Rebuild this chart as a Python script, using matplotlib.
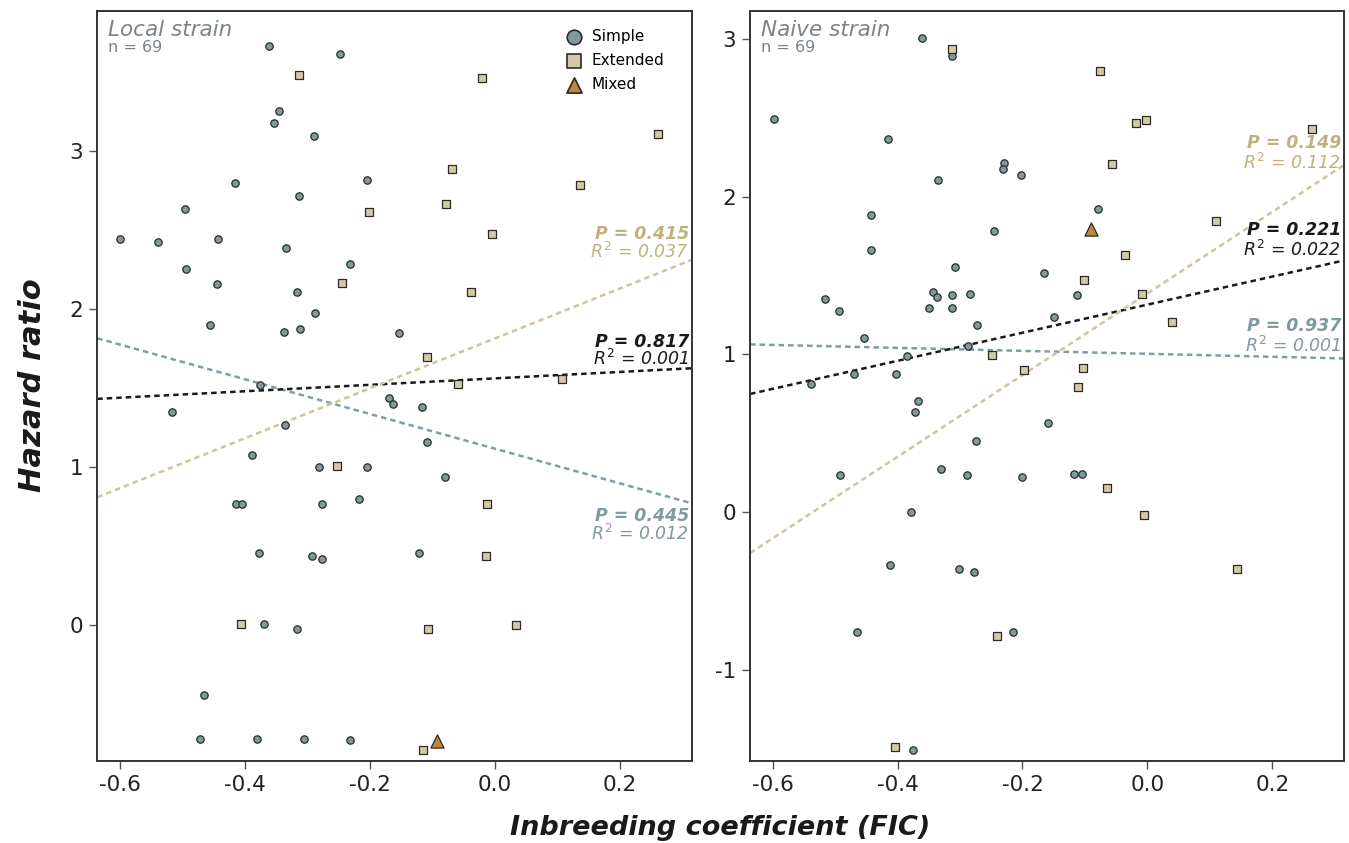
import numpy as np
import matplotlib.pyplot as plt

# Local strain
loc_simple_x = [-0.361, -0.247, -0.346, -0.353, -0.290, -0.416, -0.204, -0.314, -0.495, -0.599,
                -0.539, -0.443, -0.334, -0.494, -0.445, -0.456, -0.338, -0.312, -0.287, -0.317,
                -0.232, -0.153, -0.375, -0.517, -0.336, -0.388, -0.169, -0.163, -0.117, -0.109,
                -0.080, -0.281, -0.205, -0.414, -0.405, -0.277, -0.218, -0.377, -0.292, -0.276,
                -0.121, -0.370, -0.317, -0.466, -0.471, -0.380, -0.305, -0.232]
loc_simple_y = [3.663, 3.615, 3.254, 3.174, 3.094, 2.794, 2.813, 2.714, 2.634, 2.444,
                2.425, 2.444, 2.385, 2.250, 2.155, 1.900, 1.855, 1.874, 1.973, 2.104,
                2.283, 1.845, 1.516, 1.345, 1.265, 1.075, 1.435, 1.396, 1.376, 1.155,
                0.935, 0.997, 0.997, 0.765, 0.765, 0.765, 0.796, 0.454, 0.435, 0.416,
                0.454, 0.005, -0.025, -0.444, -0.725, -0.725, -0.725, -0.733]
loc_ext_x = [-0.313, -0.021, 0.261, -0.068, 0.136, -0.078, -0.202, -0.004, -0.244, -0.038,
             -0.109, -0.059, 0.108, -0.252, -0.012, -0.014, -0.406, -0.107, 0.034, -0.115]
loc_ext_y = [3.482, 3.463, 3.106, 2.885, 2.786, 2.665, 2.615, 2.475, 2.163, 2.106,
             1.697, 1.524, 1.556, 1.003, 0.765, 0.437, 0.007, -0.025, -0.003, -0.793]
loc_mix_x = [-0.093]
loc_mix_y = [-0.736]

# Naive strain
nai_simple_x = [-0.361, -0.313, -0.598, -0.415, -0.230, -0.231, -0.202, -0.335, -0.079, -0.443,
                -0.246, -0.442, -0.308, -0.166, -0.516, -0.494, -0.344, -0.336, -0.313, -0.284,
                -0.113, -0.350, -0.313, -0.149, -0.273, -0.454, -0.287, -0.385, -0.538, -0.469,
                -0.403, -0.367, -0.372, -0.159, -0.274, -0.492, -0.331, -0.289, -0.201, -0.117,
                -0.104, -0.378, -0.412, -0.302, -0.277, -0.465, -0.215, -0.375]
nai_simple_y = [3.008, 2.895, 2.496, 2.367, 2.216, 2.176, 2.136, 2.105, 1.925, 1.886,
                1.785, 1.664, 1.554, 1.514, 1.353, 1.273, 1.394, 1.364, 1.375, 1.383,
                1.375, 1.294, 1.294, 1.235, 1.185, 1.104, 1.053, 0.992, 0.814, 0.874,
                0.874, 0.702, 0.633, 0.563, 0.452, 0.233, 0.273, 0.233, 0.222, 0.243,
                0.243, 0.002, -0.338, -0.359, -0.380, -0.759, -0.759, -1.512]
nai_ext_x = [-0.312, -0.076, -0.019, -0.002, 0.264, -0.057, 0.110, -0.036, -0.101, -0.008,
             0.040, -0.249, -0.198, -0.103, -0.111, -0.064, -0.006, 0.143, -0.241, -0.404]
nai_ext_y = [2.936, 2.800, 2.466, 2.487, 2.428, 2.206, 1.847, 1.633, 1.474, 1.383,
             1.205, 0.994, 0.903, 0.914, 0.793, 0.152, -0.019, -0.359, -0.789, -1.489]
nai_mix_x = [-0.091]
nai_mix_y = [1.798]

# regression lines (slope, intercept): simple, all, extended
loc_slope = [-1.099, 0.204, 1.581]
loc_icpt = [1.114, 1.559, 1.812]
nai_slope = [-0.094, 0.891, 2.590]
nai_icpt = [1.004, 1.316, 1.387]

loc_p = ['0.445', '0.817', '0.415']
loc_r2 = ['0.012', '0.001', '0.037']
nai_p = ['0.937', '0.221', '0.149']
nai_r2 = ['0.001', '0.022', '0.112']

c_simple = '#7f999d'
c_ext = '#d3c9a5'
c_mix = '#c08640'
line_cols = ['#7f9da4', '#1a1a1a', '#cfc49e']
txt_cols = ['#7f9aa0', '#1a1a1a', '#bfb27d']
gray = '#7b8388'

fig = plt.figure(figsize=(13.49, 8.43), dpi=100)
ax1 = fig.add_axes([0.0721, 0.0973, 0.4408, 0.8897])
ax2 = fig.add_axes([0.556, 0.0973, 0.4405, 0.8897])

panels = [
    (ax1, 'Local strain', loc_simple_x, loc_simple_y, loc_ext_x, loc_ext_y, loc_mix_x, loc_mix_y,
     loc_slope, loc_icpt, loc_p, loc_r2, (-0.863, 3.885), [0, 1, 2, 3],
     [(0.327, 0.303), (0.559, 0.536), (0.703, 0.679)]),
    (ax2, 'Naive strain', nai_simple_x, nai_simple_y, nai_ext_x, nai_ext_y, nai_mix_x, nai_mix_y,
     nai_slope, nai_icpt, nai_p, nai_r2, (-1.579, 3.179), [-1, 0, 1, 2, 3],
     [(0.580, 0.553), (0.708, 0.681), (0.824, 0.797)]),
]

xlim = (-0.636, 0.315)
for ax, title, sx, sy, ex, ey, mx, my, slope, icpt, pv, r2, ylim, yt, ypos in panels:
    xx = np.array(xlim)
    for k in range(3):
        ax.plot(xx, slope[k] * xx + icpt[k], color=line_cols[k], lw=1.8,
                ls=(0, (2.2, 1.6)), zorder=2)
    ax.scatter(sx, sy, s=28, marker='o', c=c_simple, edgecolors='#2a2a2a', linewidths=0.9, zorder=3)
    ax.scatter(ex, ey, s=36, marker='s', c=c_ext, edgecolors='#2a2a2a', linewidths=0.9, zorder=3)
    ax.scatter(mx, my, s=90, marker='^', c=c_mix, edgecolors='#2a2a2a', linewidths=0.9, zorder=3)
    ax.set_xlim(xlim)
    ax.set_ylim(ylim)
    ax.set_xticks([-0.6, -0.4, -0.2, 0.0, 0.2])
    ax.set_xticklabels(['-0.6', '-0.4', '-0.2', '0.0', '0.2'])
    ax.set_yticks(yt)
    ax.set_yticklabels([str(v) for v in yt])
    ax.tick_params(labelsize=15.5, length=6, width=1, color='#555555', labelcolor='#222222', pad=4)
    for sp in ax.spines.values():
        sp.set_linewidth(1.4)
        sp.set_color('#333333')
    ax.text(0.018, 0.975, title, transform=ax.transAxes, fontsize=15.5, style='italic',
            color=gray, va='center', ha='left')
    ax.text(0.018, 0.951, 'n = 69', transform=ax.transAxes, fontsize=11.5,
            color=gray, va='center', ha='left')
    for k in range(3):
        ax.text(0.995, ypos[k][0], 'P = ' + pv[k], transform=ax.transAxes, fontsize=12.5,
                style='italic', weight='bold', color=txt_cols[k], ha='right', va='center')
        ax.text(0.995, ypos[k][1], r'$R^2$ = ' + r2[k], transform=ax.transAxes, fontsize=12.5,
                style='italic', color=txt_cols[k], ha='right', va='center')

# legend on left panel
h1 = ax1.scatter([], [], s=110, marker='o', c=c_simple, edgecolors='#2a2a2a', linewidths=1.2)
h2 = ax1.scatter([], [], s=110, marker='s', c=c_ext, edgecolors='#2a2a2a', linewidths=1.2)
h3 = ax1.scatter([], [], s=120, marker='^', c=c_mix, edgecolors='#2a2a2a', linewidths=1.2)
ax1.legend([h1, h2, h3], ['Simple', 'Extended', 'Mixed'], loc='upper left',
           bbox_to_anchor=(0.76, 0.988), frameon=False, fontsize=11, handletextpad=0.2,
           labelspacing=0.6, borderaxespad=0.2)

fig.text(0.024, 0.543, 'Hazard ratio', rotation=90, fontsize=22, weight='bold', style='italic',
         color='#1a1a1a', ha='center', va='center')
fig.text(0.534, 0.018, 'Inbreeding coefficient (FIC)', fontsize=19.5, weight='bold', style='italic',
         color='#1a1a1a', ha='center', va='center')

fig.savefig('out.png', dpi=100)
